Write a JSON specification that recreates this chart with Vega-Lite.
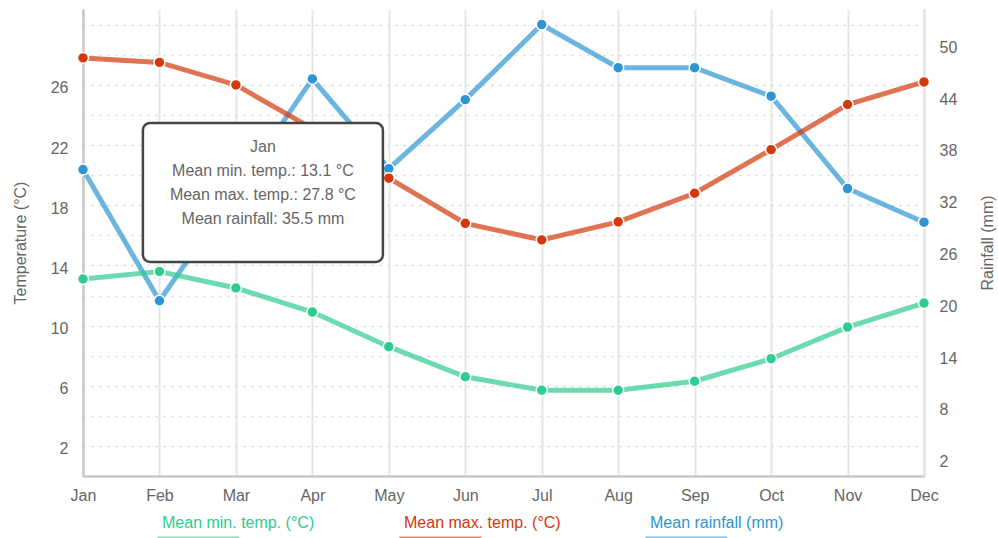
{
  "$schema": "https://vega.github.io/schema/vega-lite/v6.json",
  "width": 841,
  "height": 467,
  "autosize": "none",
  "padding": {"left": 83, "top": 9, "right": 74, "bottom": 62},
  "background": "white",
  "config": {
    "font": "Liberation Sans",
    "view": {"stroke": null},
    "axis": {
      "labelFont": "Liberation Sans",
      "labelFontSize": 16,
      "labelColor": "#666666",
      "titleFont": "Liberation Sans",
      "titleFontSize": 16,
      "titleFontWeight": "normal",
      "titleColor": "#666666",
      "ticks": false
    }
  },
  "datasets": {
    "climate": [
      {"month": "Jan", "series": "Mean min. temp. (°C)", "unit": "temp", "value": 13.1},
      {"month": "Feb", "series": "Mean min. temp. (°C)", "unit": "temp", "value": 13.6},
      {"month": "Mar", "series": "Mean min. temp. (°C)", "unit": "temp", "value": 12.5},
      {"month": "Apr", "series": "Mean min. temp. (°C)", "unit": "temp", "value": 10.9},
      {"month": "May", "series": "Mean min. temp. (°C)", "unit": "temp", "value": 8.6},
      {"month": "Jun", "series": "Mean min. temp. (°C)", "unit": "temp", "value": 6.6},
      {"month": "Jul", "series": "Mean min. temp. (°C)", "unit": "temp", "value": 5.7},
      {"month": "Aug", "series": "Mean min. temp. (°C)", "unit": "temp", "value": 5.7},
      {"month": "Sep", "series": "Mean min. temp. (°C)", "unit": "temp", "value": 6.3},
      {"month": "Oct", "series": "Mean min. temp. (°C)", "unit": "temp", "value": 7.8},
      {"month": "Nov", "series": "Mean min. temp. (°C)", "unit": "temp", "value": 9.9},
      {"month": "Dec", "series": "Mean min. temp. (°C)", "unit": "temp", "value": 11.5},
      {"month": "Jan", "series": "Mean max. temp. (°C)", "unit": "temp", "value": 27.8},
      {"month": "Feb", "series": "Mean max. temp. (°C)", "unit": "temp", "value": 27.5},
      {"month": "Mar", "series": "Mean max. temp. (°C)", "unit": "temp", "value": 26.0},
      {"month": "Apr", "series": "Mean max. temp. (°C)", "unit": "temp", "value": 23.1},
      {"month": "May", "series": "Mean max. temp. (°C)", "unit": "temp", "value": 19.8},
      {"month": "Jun", "series": "Mean max. temp. (°C)", "unit": "temp", "value": 16.8},
      {"month": "Jul", "series": "Mean max. temp. (°C)", "unit": "temp", "value": 15.7},
      {"month": "Aug", "series": "Mean max. temp. (°C)", "unit": "temp", "value": 16.9},
      {"month": "Sep", "series": "Mean max. temp. (°C)", "unit": "temp", "value": 18.8},
      {"month": "Oct", "series": "Mean max. temp. (°C)", "unit": "temp", "value": 21.7},
      {"month": "Nov", "series": "Mean max. temp. (°C)", "unit": "temp", "value": 24.7},
      {"month": "Dec", "series": "Mean max. temp. (°C)", "unit": "temp", "value": 26.2},
      {"month": "Jan", "series": "Mean rainfall (mm)", "unit": "rain", "value": 35.5},
      {"month": "Feb", "series": "Mean rainfall (mm)", "unit": "rain", "value": 20.3},
      {"month": "Mar", "series": "Mean rainfall (mm)", "unit": "rain", "value": 33.0},
      {"month": "Apr", "series": "Mean rainfall (mm)", "unit": "rain", "value": 46.0},
      {"month": "May", "series": "Mean rainfall (mm)", "unit": "rain", "value": 35.6},
      {"month": "Jun", "series": "Mean rainfall (mm)", "unit": "rain", "value": 43.6},
      {"month": "Jul", "series": "Mean rainfall (mm)", "unit": "rain", "value": 52.3},
      {"month": "Aug", "series": "Mean rainfall (mm)", "unit": "rain", "value": 47.3},
      {"month": "Sep", "series": "Mean rainfall (mm)", "unit": "rain", "value": 47.3},
      {"month": "Oct", "series": "Mean rainfall (mm)", "unit": "rain", "value": 44.0},
      {"month": "Nov", "series": "Mean rainfall (mm)", "unit": "rain", "value": 33.3},
      {"month": "Dec", "series": "Mean rainfall (mm)", "unit": "rain", "value": 29.4}
    ],
    "tip": [
      {"tip": ["Jan", "Mean min. temp.: 13.1 °C", "Mean max. temp.: 27.8 °C", "Mean rainfall: 35.5 mm"]}
    ]
  },
  "layer": [
    {
      "data": {"name": "climate"},
      "transform": [{"filter": "datum.unit == 'rain'"}],
      "encoding": {
        "x": {
          "field": "month", "type": "ordinal",
          "scale": {"type": "point", "padding": 0, "domain": ["Jan","Feb","Mar","Apr","May","Jun","Jul","Aug","Sep","Oct","Nov","Dec"]},
          "axis": {"title": null, "labelAngle": 0, "labelPadding": 11, "grid": true, "gridColor": "#e6e6e6", "gridWidth": 2, "domain": true, "domainColor": "#c8c8c8", "domainWidth": 2.5}
        },
        "y": {
          "field": "value", "type": "quantitative",
          "scale": {"domain": [0, 54.1], "nice": false, "zero": false},
          "axis": {"orient": "right", "title": "Rainfall (mm)", "titleAngle": -90, "titlePadding": 39, "values": [2, 8, 14, 20, 26, 32, 38, 44, 50], "grid": false, "domain": true, "domainColor": "#e0e0e0", "domainWidth": 2, "labelPadding": 15, "labelOffset": 3}
        },
        "color": {
          "field": "series", "type": "nominal",
          "scale": {"domain": ["Mean min. temp. (°C)", "Mean max. temp. (°C)", "Mean rainfall (mm)"], "range": ["#2ecc8f", "#d4380d", "#2e95d2"]},
          "legend": {
            "title": null, "orient": "none", "direction": "horizontal", "legendX": 71, "legendY": 506,
            "padding": 0, "labelFontSize": 16, "labelLimit": 300, "labelFont": "Liberation Sans",
            "symbolType": "M -1.5 4.7 L 25.8 4.7", "symbolSize": 36, "symbolStrokeWidth": 2, "labelOffset": -8, "columnPadding": 80,
            "encode": {
              "symbols": {"update": {"stroke": {"scale": "color", "field": "value"}, "strokeWidth": {"value": 2}, "fill": {"value": "transparent"}, "opacity": {"value": 0.6}}},
              "labels": {"update": {"fill": {"scale": "color", "field": "value"}}}
            }
          }
        }
      },
      "layer": [
        {"mark": {"type": "line", "strokeWidth": 5, "strokeOpacity": 0.7}},
        {"mark": {"type": "point", "shape": "circle", "filled": true, "size": 120, "opacity": 1, "stroke": "white", "strokeWidth": 1.5}}
      ]
    },
    {
      "layer": [
        {
          "data": {"name": "climate"},
          "transform": [{"filter": "datum.unit == 'temp'"}],
          "encoding": {
            "x": {"field": "month", "type": "ordinal"},
            "y": {
              "field": "value", "type": "quantitative",
              "scale": {"domain": [0, 31.05], "nice": false, "zero": false},
              "axis": {"orient": "left", "title": "Temperature (°C)", "titlePadding": 22, "tickCount": 16, "labelExpr": "datum.value % 4 == 2 && datum.value < 28 ? datum.label : ''", "grid": true, "gridDash": [2, 6], "gridColor": "#d4d4d4", "gridWidth": 1.5, "domain": true, "domainColor": "#c8c8c8", "domainWidth": 2.5, "labelPadding": 15, "labelOffset": 3}
            },
            "color": {"field": "series", "type": "nominal"}
          },
          "layer": [
            {"mark": {"type": "line", "strokeWidth": 5, "strokeOpacity": 0.7}},
            {"mark": {"type": "point", "shape": "circle", "filled": true, "size": 120, "opacity": 1, "stroke": "white", "strokeWidth": 1.5}}
          ]
        },
        {
          "data": {"name": "tip"},
          "mark": {"type": "rect", "width": 240, "height": 139, "fill": "white", "stroke": "#444444", "strokeWidth": 2.5, "cornerRadius": 7, "xOffset": 27},
          "encoding": {
            "x": {"datum": "Mar", "type": "ordinal"},
            "y": {"datum": 18.85, "type": "quantitative"}
          }
        },
        {
          "data": {"name": "tip"},
          "mark": {"type": "text", "fontSize": 16, "font": "Liberation Sans", "color": "#666666", "lineHeight": 24, "align": "center", "baseline": "middle", "xOffset": 27},
          "encoding": {
            "x": {"datum": "Mar", "type": "ordinal"},
            "y": {"datum": 21.9, "type": "quantitative"},
            "text": {"field": "tip"}
          }
        }
      ]
    }
  ],
  "resolve": {"scale": {"y": "independent"}}
}
